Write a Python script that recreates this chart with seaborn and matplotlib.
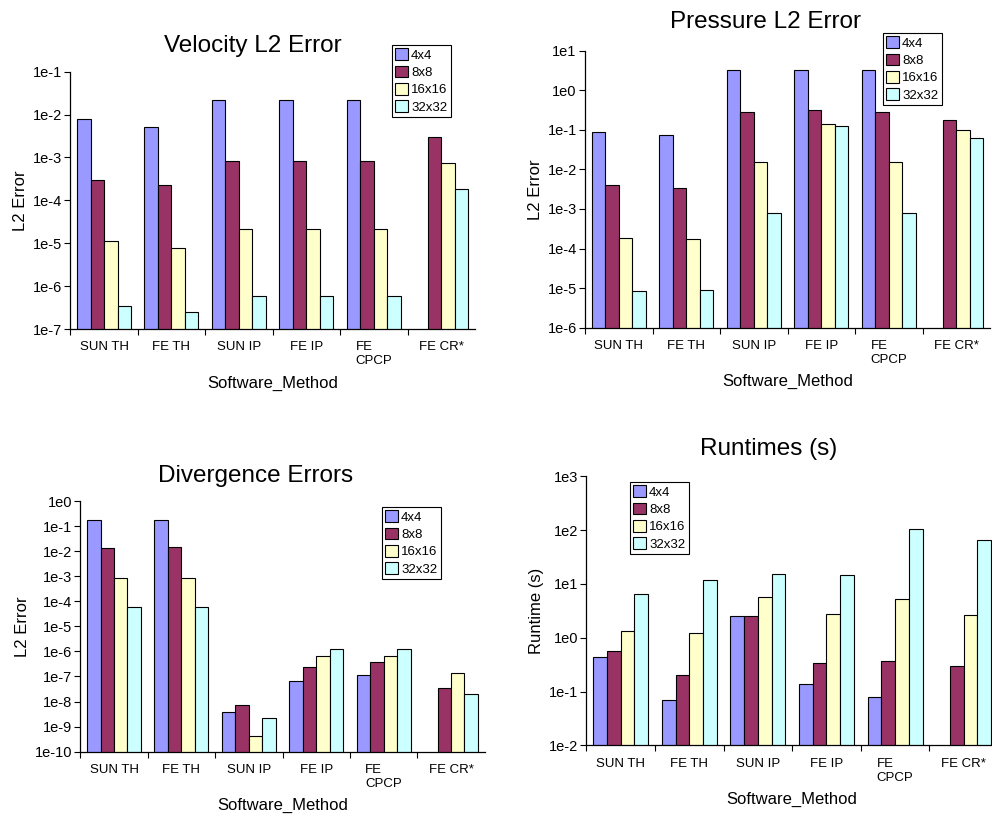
import numpy as np
import pandas as pd
import matplotlib
matplotlib.use("Agg")
import matplotlib.pyplot as plt
from matplotlib.ticker import FixedLocator, FixedFormatter, NullLocator
import seaborn as sns

# Categories and mesh resolutions
methods = ["SUN TH", "FE TH", "SUN IP", "FE IP", "FE\nCPCP", "FE CR*"]
meshes = ["4x4", "8x8", "16x16", "32x32"]

# Velocity L2 error, one list per mesh (FE CR* has no 4x4 run)
vel_4x4 = [7.9e-3, 5.2e-3, 2.2e-2, 2.2e-2, 2.2e-2, np.nan]
vel_8x8 = [3.0e-4, 2.25e-4, 8.3e-4, 8.3e-4, 8.3e-4, 2.95e-3]
vel_16x16 = [1.1e-5, 7.6e-6, 2.2e-5, 2.2e-5, 2.2e-5, 7.4e-4]
vel_32x32 = [3.4e-7, 2.45e-7, 5.8e-7, 5.8e-7, 5.8e-7, 1.84e-4]

# Pressure L2 error
pre_4x4 = [0.086, 0.072, 3.3, 3.3, 3.3, np.nan]
pre_8x8 = [4.1e-3, 3.4e-3, 0.29, 0.316, 0.29, 0.177]
pre_16x16 = [1.8e-4, 1.74e-4, 0.0153, 0.143, 0.0153, 0.097]
pre_32x32 = [8.6e-6, 8.9e-6, 7.9e-4, 0.127, 7.9e-4, 0.061]

# Divergence error
div_4x4 = [0.169, 0.169, 3.8e-9, 6.8e-8, 1.11e-7, np.nan]
div_8x8 = [0.0129, 0.0142, 7.0e-9, 2.5e-7, 3.66e-7, 3.4e-8]
div_16x16 = [8.7e-4, 8.7e-4, 4.1e-10, 6.4e-7, 6.4e-7, 1.37e-7]
div_32x32 = [5.7e-5, 5.7e-5, 2.27e-9, 1.29e-6, 1.29e-6, 2.06e-8]

# Runtimes in seconds
run_4x4 = [0.43, 0.0687, 2.53, 0.14, 0.078, np.nan]
run_8x8 = [0.575, 0.2, 2.53, 0.334, 0.364, 0.294]
run_16x16 = [1.33, 1.21, 5.6, 2.76, 5.17, 2.6]
run_32x32 = [6.4, 11.7, 15.3, 14.9, 103.0, 64.6]

# Decade ranges of the value axes
vel_decades = [-7, -6, -5, -4, -3, -2, -1]
pre_decades = [-6, -5, -4, -3, -2, -1, 0, 1]
div_decades = [-10, -9, -8, -7, -6, -5, -4, -3, -2, -1, 0]
run_decades = [-2, -1, 0, 1, 2, 3]

palette = ["#9999FF", "#993366", "#FFFFCC", "#CCFFFF"]

sns.set_theme(style="white")
plt.rcParams["font.family"] = ["Liberation Sans", "DejaVu Sans"]
plt.rcParams["text.color"] = "black"
plt.rcParams["axes.labelcolor"] = "black"
plt.rcParams["xtick.color"] = "black"
plt.rcParams["ytick.color"] = "black"


def frame(series):
    rows = []
    for mesh, vals in zip(meshes, series):
        for m, v in zip(methods, vals):
            rows.append({"Software_Method": m, "Mesh": mesh, "value": v})
    return pd.DataFrame(rows)


W, H = 992, 815
fig = plt.figure(figsize=(W / 100, H / 100), dpi=100)


def px_axes(left, top, right, bottom):
    return fig.add_axes([left / W, 1 - bottom / H, (right - left) / W, (bottom - top) / H])


def panel(ax, series, decades, ylabel, title, title_xy, legend_xy):
    df = frame(series)
    sns.barplot(data=df, x="Software_Method", y="value", hue="Mesh",
                order=methods, hue_order=meshes, palette=palette,
                width=0.8, edgecolor="black", linewidth=0.8,
                saturation=1, errorbar=None, ax=ax)
    ax.set_yscale("log")
    ax.set_ylim(10.0 ** decades[0], 10.0 ** decades[-1])
    ax.set_xlim(-0.5, len(methods) - 0.5)
    ax.yaxis.set_major_locator(FixedLocator([10.0 ** d for d in decades]))
    ax.yaxis.set_major_formatter(FixedFormatter([f"1e{d}" for d in decades]))
    ax.yaxis.set_minor_locator(NullLocator())
    ax.tick_params(axis="y", which="major", direction="out", length=4, width=0.8,
                   color="black", left=True, labelsize=10.5, pad=2)
    # category labels centred, tick marks on the boundaries between groups
    ax.set_xticks(range(len(methods)))
    ax.set_xticklabels(methods, multialignment="left")
    ax.tick_params(axis="x", which="major", length=0, labelsize=9.5, pad=9)
    ax.xaxis.set_minor_locator(FixedLocator(np.arange(-0.5, len(methods) - 1, 1.0)))
    ax.tick_params(axis="x", which="minor", direction="out", length=4, width=0.8,
                   color="black", bottom=True)
    for s in ["top", "right"]:
        ax.spines[s].set_visible(False)
    for s in ["left", "bottom"]:
        ax.spines[s].set_color("black")
        ax.spines[s].set_linewidth(0.9)
    ax.set_xlabel("Software_Method", fontsize=12, labelpad=6)
    ax.set_ylabel(ylabel, fontsize=12, labelpad=3.5)
    fig.text(title_xy[0] / W, 1 - title_xy[1] / H, title, fontsize=17.5,
             ha="center", va="baseline")
    handles, labels = ax.get_legend_handles_labels()
    ax.legend(handles, labels, loc="upper left",
              bbox_to_anchor=(legend_xy[0] / W, 1 - legend_xy[1] / H),
              bbox_transform=fig.transFigure, fontsize=9.5, frameon=True,
              fancybox=False, edgecolor="black", framealpha=1,
              handlelength=1.0, handleheight=1.0, handletextpad=0.2,
              labelspacing=0.3, borderpad=0.25, borderaxespad=0)
    ax.get_legend().get_frame().set_linewidth(0.8)


ax1 = px_axes(70.3, 71.7, 475, 329)
panel(ax1, [vel_4x4, vel_8x8, vel_16x16, vel_32x32], vel_decades,
      "L2 Error", "Velocity L2 Error", (253, 51.7), (392, 45))

ax2 = px_axes(585, 50.7, 990, 327.7)
panel(ax2, [pre_4x4, pre_8x8, pre_16x16, pre_32x32], pre_decades,
      "L2 Error", "Pressure L2 Error", (765, 28.3), (883, 33))

ax3 = px_axes(80.3, 501, 484.7, 751.7)
panel(ax3, [div_4x4, div_8x8, div_16x16, div_32x32], div_decades,
      "L2 Error", "Divergence Errors", (255.7, 481.7), (382, 507))

ax4 = px_axes(586.3, 476.3, 998, 745.3)
panel(ax4, [run_4x4, run_8x8, run_16x16, run_32x32], run_decades,
      "Runtime (s)", "Runtimes (s)", (769, 455), (630, 482))

fig.savefig("out.png", dpi=100)
